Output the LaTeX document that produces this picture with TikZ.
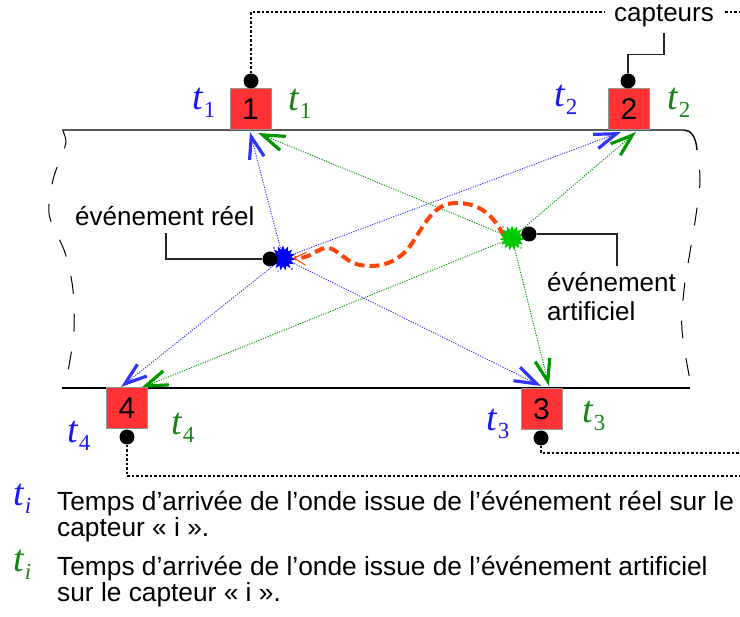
\documentclass[tikz,border=0pt]{standalone}
\usepackage{fontspec}
\setmainfont{Liberation Sans}
\newfontfamily\tfont{Liberation Serif}
\usetikzlibrary{arrows.meta,shapes.geometric,calc}
\definecolor{boxred}{RGB}{255,51,51}
\definecolor{boxgray}{RGB}{150,150,150}
\definecolor{tblue}{RGB}{25,25,250}
\definecolor{tgreen}{RGB}{25,130,25}
\definecolor{arblue}{RGB}{50,50,255}
\definecolor{argreen}{RGB}{0,150,0}
\definecolor{splatgreen}{RGB}{0,200,0}
\definecolor{wavered}{RGB}{255,68,10}
\newcommand{\tsym}[2]{{\tfont\fontsize{38}{38}\selectfont\itshape t}\kern1pt\raisebox{-8pt}{\tfont\fontsize{23}{23}\selectfont #1#2}}
\begin{document}
\begin{tikzpicture}[x=1pt,y=-1pt,
  sensorbox/.style={draw=boxgray,line width=1pt,fill=boxred,minimum width=41pt,minimum height=41pt,inner sep=0pt,font=\fontsize{30}{30}\selectfont},
  sdot/.style={circle,fill=black,minimum size=15pt,inner sep=0pt},
  ground/.style={line width=1.4pt,black},
  sidewave/.style={line width=1pt,black,dash pattern=on 18pt off 20pt},
  dotline/.style={line width=1.3pt,dash pattern=on 2.5pt off 2pt},
  conn/.style={line width=1.3pt,black!85},
  lab/.style={font=\fontsize{26}{30}\selectfont,inner sep=0pt,anchor=base west},
  leg/.style={font=\fontsize{26.3}{28}\selectfont,inner sep=0pt,anchor=base west},
  tl/.style={inner sep=0pt,anchor=base west},
  bluearr/.style={arblue,line width=0.9pt,dash pattern=on 1.2pt off 1.3pt,-{Straight Barb[length=22pt,width=15pt,line width=3.2pt]}},
  greenarr/.style={argreen,line width=0.9pt,dash pattern=on 1.2pt off 1.3pt,-{Straight Barb[length=22pt,width=15pt,line width=3.2pt]}},
  wave/.style={wavered,line width=4pt,dash pattern=on 10pt off 5pt,-{Straight Barb[length=12pt,width=13pt,line width=1pt]}},
  splat/.style={star,star points=15,star point ratio=1.5,minimum size=25pt,inner sep=0pt}
]
\useasboundingbox (0,0) rectangle (740,617);

% ground lines and side boundaries
\draw[ground] (62,130) -- (684,130) .. controls (691,130) and (696,137) .. (697,150);
\draw[ground] (62,388) -- (690,388);
\draw[sidewave,dash phase=18pt] plot[smooth,tension=0.6] coordinates {(697,150) (700,180) (696,215) (690,252) (684,290) (682,330) (690,380)};
\draw[sidewave] plot[smooth,tension=0.6] coordinates {(63,131) (66,142) (62,155) (53,180) (49,213) (58,236) (66,256) (73,290) (74,330) (70,360) (65,386)};

% event positions
\coordinate (evR) at (283,258);
\coordinate (evA) at (512,238);

% arrow tips
\coordinate (b1) at (250,132);
\coordinate (b2) at (621,132);
\coordinate (b3) at (541,386);
\coordinate (b4) at (121,387);
\coordinate (g1) at (258,133);
\coordinate (g2) at (636,132);
\coordinate (g3) at (549,386);
\coordinate (g4) at (141,388);

\draw[bluearr] (evR) -- (b1);
\draw[bluearr] (evR) -- (b2);
\draw[bluearr] (evR) -- (b3);
\draw[bluearr] (evR) -- (b4);
\draw[greenarr] (evA) -- (g1);
\draw[greenarr] (evA) -- (g2);
\draw[greenarr] (evA) -- (g3);
\draw[greenarr] (evA) -- (g4);

% wavy link
\coordinate (wtip) at (293,258);
\draw[wave] (504,236) .. controls (493,215) and (480,203) .. (456,203) .. controls (430,203) and (422,232) .. (407,250) .. controls (394,264) and (378,268) .. (360,265) .. controls (344,262) and (336,246) .. (325,248) .. controls (315,250) and (310,259) .. (wtip);

% splats
\node[splat,fill=blue] (ev1) at (evR) {};
\node[splat,fill=splatgreen] (ev2) at (evA) {};
\fill[blue] (274,248) circle (0.9pt) (292,269) circle (0.9pt) (278,271) circle (0.7pt);
\fill[splatgreen] (503,227) circle (0.9pt) (521,248) circle (0.9pt) (502,247) circle (0.7pt);

% sensors
\node[sensorbox] (s1) at (250.5,109.5) {1};
\node[sensorbox] (s2) at (629,109.5) {2};
\node[sensorbox] (s4) at (127,408.5) {4};
\node[sensorbox] (s3) at (541.5,409.5) {3};
\node[sdot] (d1) at (251,81) {};
\node[sdot] (d2) at (628,81) {};
\node[sdot] (d4) at (127,437) {};
\node[sdot] (d3) at (541,438) {};

% capteurs label and its links
\node[font=\fontsize{26}{30}\selectfont,inner sep=0pt,anchor=base] (cap) at (664,22) {capteurs};
\coordinate (capL) at (605,12);
\coordinate (capR) at (725,12);
\coordinate (capE) at (740,12);
\coordinate (k2) at (664,33);
\coordinate (e3) at (740,453);
\coordinate (e4) at (740,476);
\draw[dotline] (d1) |- (capL);
\draw[dotline] (capR) -- (capE);
\draw[conn] (d2.north) -- ++(0,-19) -| (k2);
\draw[dotline] (d3) |- (e3);
\draw[dotline] (d4) |- (e4);

% event labels
\node[sdot] (dR) at (270,259) {};
\node[sdot] (dA) at (529,234) {};
\coordinate (kR) at (166,233);
\coordinate (kA) at (617,266);
\draw[conn] (dR) -| (kR);
\draw[conn] (dA) -| (kA);
\node[lab] (lR) at (75,226) {événement réel};
\node[lab] (lA1) at (547,292) {événement};
\node[lab] (lA2) at (547,321) {artificiel};

% time labels
\node[tl,text=tblue] (tb1) at (192,110) {\tsym{1}{}};
\node[tl,text=tgreen] (tg1) at (288,111) {\tsym{1}{}};
\node[tl,text=tblue] (tb2) at (554,107) {\tsym{2}{}};
\node[tl,text=tgreen] (tg2) at (667,110) {\tsym{2}{}};
\node[tl,text=tblue] (tb4) at (67,443) {\tsym{4}{}};
\node[tl,text=tgreen] (tg4) at (171,435) {\tsym{4}{}};
\node[tl,text=tblue] (tb3) at (486,431) {\tsym{3}{}};
\node[tl,text=tgreen] (tg3) at (582,423) {\tsym{3}{}};

% legend
\node[tl,text=tblue] (lt1) at (13,506) {\tsym{\itshape}{i}};
\node[tl,text=tgreen] (lt2) at (13,572) {\tsym{\itshape}{i}};
\node[leg] (L1) at (57,511) {Temps d’arrivée de l’onde issue de l’événement réel sur le};
\node[leg] (L2) at (57,537) {capteur « i ».};
\node[leg] (L3) at (57,576) {Temps d’arrivée de l’onde issue de l’événement artificiel};
\node[leg] (L4) at (57,602) {sur le capteur « i ».};
\end{tikzpicture}
\end{document}
